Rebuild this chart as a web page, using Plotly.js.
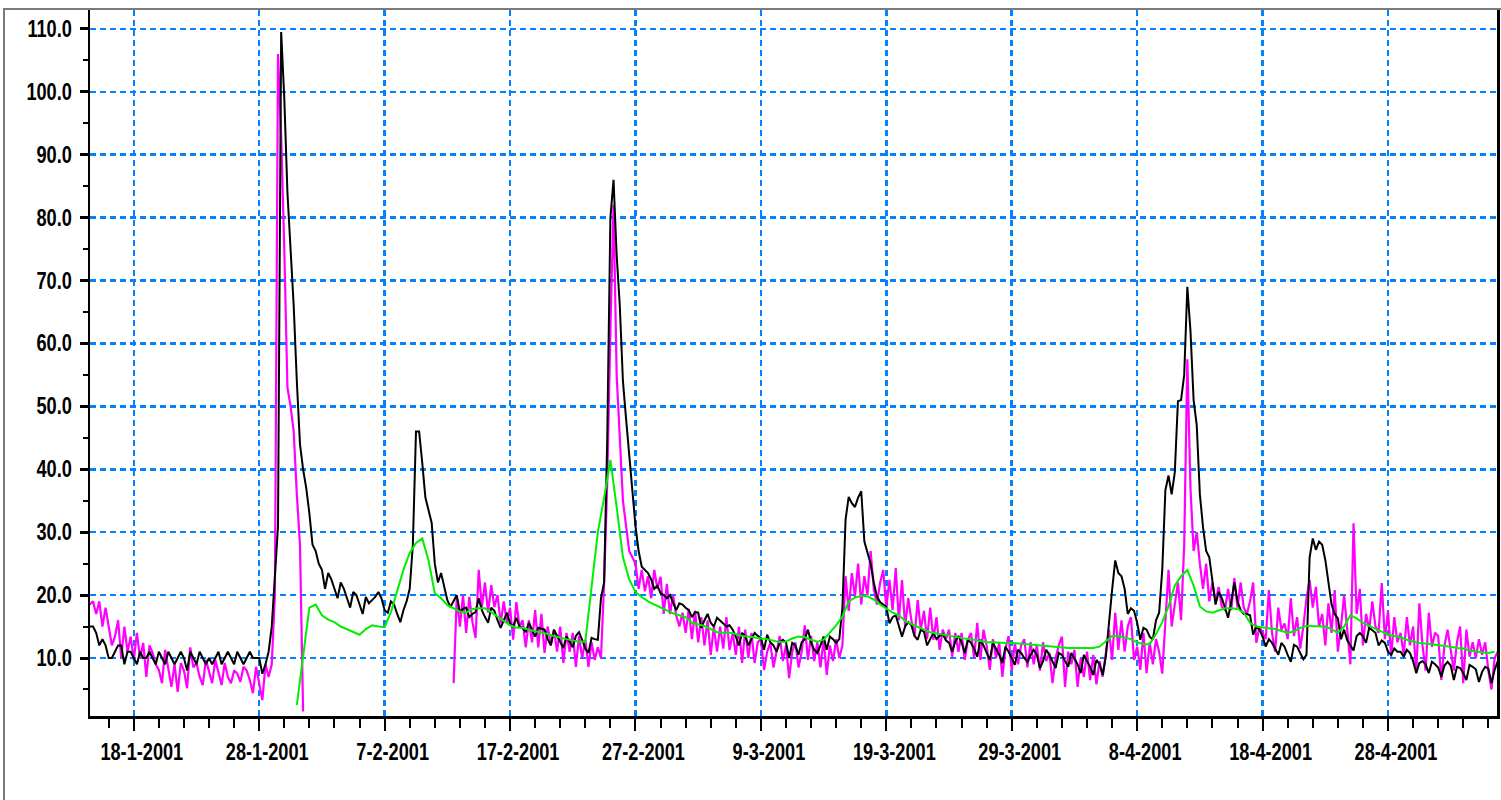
<!DOCTYPE html>
<html><head><meta charset="utf-8">
<script src="https://cdn.plot.ly/plotly-3.0.1.min.js"></script>
<style>
html,body{margin:0;padding:0;background:#fff;}
#wrap{position:relative;width:1501px;height:800px;overflow:hidden;}
#chart{position:absolute;left:0;top:0;width:1501px;height:800px;}
#frame{position:absolute;left:3px;top:8px;width:1600px;height:900px;border-left:2px solid #7a7a7a;border-top:2px solid #7a7a7a;pointer-events:none;}
</style></head><body>
<div id="wrap"><div id="chart"></div><div id="frame"></div></div>
<script>
// Series sampled every 6 hours, first sample 2001-01-14 12:00
const seriesStart = '2001-01-14T12:00:00Z';
const seriesStepHours = 6;
// Smoothed (green) series sampled every 12 hours, first sample 2001-01-31 00:00
const greenStart = '2001-01-31T00:00:00Z';
const greenStepHours = 12;

const blackValues = [
/*Jan14*/ 15, 15,
/*Jan15*/ 14, 12, 13, 12,
/*Jan16*/ 10, 10, 11, 12,
/*Jan17*/ 12, 9, 11, 11,
/*Jan18*/ 10, 9, 11, 10,
/*Jan19*/ 10, 11, 10, 9,
/*Jan20*/ 11, 10, 9, 11,
/*Jan21*/ 10, 9, 10, 11,
/*Jan22*/ 10, 8, 11, 10,
/*Jan23*/ 9, 11, 10, 9,
/*Jan24*/ 10, 9, 10, 11,
/*Jan25*/ 9, 10, 11, 10,
/*Jan26*/ 9, 11, 10, 9,
/*Jan27*/ 10, 11, 10, 10,
/*Jan28*/ 10, 7.5, 9, 11,
/*Jan29*/ 15, 23, 31, 109.5,
/*Jan30*/ 99, 84, 75, 66,
/*Jan31*/ 54, 44, 40, 37,
/*Feb01*/ 33, 28, 27, 25,
/*Feb02*/ 24, 21, 23.5, 22.5,
/*Feb03*/ 21, 19.5, 22, 21,
/*Feb04*/ 19.5, 18, 20.5, 20,
/*Feb05*/ 18.5, 17, 19.7, 18.7,
/*Feb06*/ 19.2, 19.7, 20.5, 19.5,
/*Feb07*/ 17.6, 17.2, 19, 18.5,
/*Feb08*/ 17, 15.7, 17.6, 19,
/*Feb09*/ 21, 28, 46, 46,
/*Feb10*/ 41, 35.5, 33.5, 31.5,
/*Feb11*/ 25, 22, 23.5, 21.5,
/*Feb12*/ 19.2, 18.1, 19, 20,
/*Feb13*/ 17.3, 17.8, 18, 16.5,
/*Feb14*/ 17, 17.3, 19.5, 17.6,
/*Feb15*/ 16.5, 15.6, 18, 17.5,
/*Feb16*/ 16, 14.8, 16, 17.2,
/*Feb17*/ 15.5, 15, 16.4, 15,
/*Feb18*/ 14.8, 14.1, 15.6, 14.5,
/*Feb19*/ 13.4, 14.8, 14.6, 14.5,
/*Feb20*/ 13, 12, 14.5, 13.5,
/*Feb21*/ 12.5, 11.6, 13.4, 12.5,
/*Feb22*/ 11.7, 13.5, 14.1, 12.9,
/*Feb23*/ 11.5, 10.8, 13.2, 13,
/*Feb24*/ 12.9, 19.5, 22, 45,
/*Feb25*/ 80, 86, 74, 66,
/*Feb26*/ 54, 48, 42, 36,
/*Feb27*/ 31, 27, 24.5, 24,
/*Feb28*/ 23.5, 22.5, 21, 21.5,
/*Mar01*/ 20.3, 20, 19.5, 20,
/*Mar02*/ 18.9, 17.6, 18.7, 18.5,
/*Mar03*/ 18, 17.6, 16.5, 17.3,
/*Mar04*/ 17.2, 14.8, 16, 17,
/*Mar05*/ 15.6, 15, 16.4, 16,
/*Mar06*/ 15.5, 15, 15.2, 14.5,
/*Mar07*/ 13.4, 12, 14, 13.5,
/*Mar08*/ 12, 13, 14, 13.5,
/*Mar09*/ 13.2, 11.3, 13.7, 12.5,
/*Mar10*/ 12, 11, 12.4, 12.9,
/*Mar11*/ 12.5, 10, 12.4, 12,
/*Mar12*/ 10.5, 12.5, 13, 14.5,
/*Mar13*/ 12.5, 11.3, 10.8, 12,
/*Mar14*/ 13.4, 11.3, 13.4, 13,
/*Mar15*/ 12.4, 13, 18, 32,
/*Mar16*/ 35.6, 34.6, 34, 35.5,
/*Mar17*/ 36.5, 28.5, 26.9, 25,
/*Mar18*/ 22, 19.8, 18.9, 18.5,
/*Mar19*/ 18.1, 15.5, 16.5, 16.8,
/*Mar20*/ 15, 13.4, 15, 15.7,
/*Mar21*/ 15.2, 13.5, 12.9, 14.5,
/*Mar22*/ 14.2, 12, 13, 14,
/*Mar23*/ 13, 13.5, 13.8, 12.8,
/*Mar24*/ 12.4, 11, 12.6, 13.5,
/*Mar25*/ 12.5, 10.8, 12.9, 12.4,
/*Mar26*/ 11.5, 10.2, 12.9, 12,
/*Mar27*/ 10.8, 9.7, 12.4, 11.5,
/*Mar28*/ 10.5, 9.2, 11.8, 11,
/*Mar29*/ 10, 8.9, 11.3, 10.8,
/*Mar30*/ 10, 9.4, 10.5, 11.3,
/*Mar31*/ 10.5, 8.4, 9.5, 11.3,
/*Apr01*/ 10.5, 9.5, 8.4, 10.8,
/*Apr02*/ 10.5, 9.5, 8.6, 10.8,
/*Apr03*/ 10, 9, 7.6, 10.5,
/*Apr04*/ 9.5, 8.6, 7.3, 9.7,
/*Apr05*/ 9, 7.3, 10.2, 16,
/*Apr06*/ 20.8, 25.5, 23.5, 23,
/*Apr07*/ 21, 17, 17.9, 17.5,
/*Apr08*/ 15.6, 12.9, 14.8, 14.5,
/*Apr09*/ 13.4, 12.9, 16, 17.2,
/*Apr10*/ 24, 36.7, 39, 36,
/*Apr11*/ 39.5, 50.8, 51, 55,
/*Apr12*/ 69, 62, 51, 47,
/*Apr13*/ 36, 30.8, 27, 26,
/*Apr14*/ 22.5, 18.5, 20.5, 19.5,
/*Apr15*/ 18, 16.4, 18.9, 22,
/*Apr16*/ 19, 17.6, 17, 17,
/*Apr17*/ 16.8, 13.7, 15, 14.5,
/*Apr18*/ 13.4, 11.8, 13, 12.4,
/*Apr19*/ 11.5, 10.5, 12.4, 11.8,
/*Apr20*/ 10.5, 9.4, 12.1, 11.8,
/*Apr21*/ 10.8, 9.8, 10.5, 26,
/*Apr22*/ 29, 27.2, 28.5, 28,
/*Apr23*/ 25.6, 22, 18.5, 17,
/*Apr24*/ 16.3, 13, 14.5, 12.8,
/*Apr25*/ 12, 11.2, 13.5, 14,
/*Apr26*/ 13.5, 12.4, 14.8, 14.4,
/*Apr27*/ 14, 12, 12.8, 12.4,
/*Apr28*/ 11, 10.5, 11.5, 11,
/*Apr29*/ 11, 10.2, 11.3, 10.8,
/*Apr30*/ 9.5, 7.6, 9.2, 9.5,
/*May01*/ 9, 7.6, 9.4, 9,
/*May02*/ 8.5, 7, 8.8, 9.4,
/*May03*/ 8.8, 6.5, 8.6, 8.4,
/*May04*/ 7.6, 6.5, 8.9, 8.6,
/*May05*/ 8.2, 6.2, 7.8, 8.6,
/*May06*/ 8.3, 6, 8.1, 9.5
];

const magentaValues = [
/*Jan14*/ 18.5, 19,
/*Jan15*/ 17, 19, 15, 18,
/*Jan16*/ 15, 12, 13.4, 16,
/*Jan17*/ 10, 15, 11, 13.4,
/*Jan18*/ 9.7, 14, 10, 12.4,
/*Jan19*/ 7, 12, 10.8, 9,
/*Jan20*/ 8.1, 6, 11.3, 8,
/*Jan21*/ 5.4, 9, 4.6, 9.2,
/*Jan22*/ 8, 5.2, 11.7, 8.5,
/*Jan23*/ 9.2, 7, 5.7, 9.7,
/*Jan24*/ 8, 6, 9.7, 7.5,
/*Jan25*/ 5.7, 9.2, 7, 6,
/*Jan26*/ 8, 7.5, 6.2, 8.6,
/*Jan27*/ 8, 6.5, 4.4, 8.6,
/*Jan28*/ 6, 3.3, 9, 7,
/*Jan29*/ 9, 20, 106, 93,
/*Jan30*/ 75, 53, 50, 46,
/*Jan31*/ 36, 28, 1.5, null,
/*Feb01*/ null, null, null, null,
/*Feb02*/ null, null, null, null,
/*Feb03*/ null, null, null, null,
/*Feb04*/ null, null, null, null,
/*Feb05*/ null, null, null, null,
/*Feb06*/ null, null, null, null,
/*Feb07*/ null, null, null, null,
/*Feb08*/ null, null, null, null,
/*Feb09*/ null, null, null, null,
/*Feb10*/ null, null, null, null,
/*Feb11*/ null, null, null, null,
/*Feb12*/ null, null, 6, 19.7,
/*Feb13*/ 15, 20, 14, 19.7,
/*Feb14*/ 15.7, 13.2, 24, 18.1,
/*Feb15*/ 22, 17.2, 21.6, 18.1,
/*Feb16*/ 20, 15.5, 19, 15.6,
/*Feb17*/ 18, 12.9, 18.9, 15,
/*Feb18*/ 16, 11.7, 16, 12.5,
/*Feb19*/ 17.6, 11.7, 17, 10.8,
/*Feb20*/ 15, 12, 14.5, 11,
/*Feb21*/ 15, 9.2, 14, 11,
/*Feb22*/ 14, 8.6, 13.5, 10,
/*Feb23*/ 12.9, 8.6, 12.5, 9.7,
/*Feb24*/ 11.7, 10, 22, 38,
/*Feb25*/ 62, 82, 55, 44,
/*Feb26*/ 35, 31, 27, 26,
/*Feb27*/ 25, 21, 24, 20.6,
/*Feb28*/ 23, 19.5, 24, 21,
/*Mar01*/ 22.9, 17, 21.8, 17,
/*Mar02*/ 20, 16.7, 15, 17.2,
/*Mar03*/ 14, 17.8, 13, 17.5,
/*Mar04*/ 12.5, 16.5, 12, 16,
/*Mar05*/ 10.5, 15, 11, 15,
/*Mar06*/ 11.5, 16.5, 11.3, 14,
/*Mar07*/ 10.5, 15, 9.2, 14.5,
/*Mar08*/ 10, 14, 9.2, 12.5,
/*Mar09*/ 13, 8.1, 11, 12.4,
/*Mar10*/ 8.5, 11, 13.5, 9.5,
/*Mar11*/ 12, 6.8, 11, 12.5,
/*Mar12*/ 8.5, 11, 15.2, 9.7,
/*Mar13*/ 13.5, 9.5, 12.5, 8.5,
/*Mar14*/ 13, 7.3, 12, 9.5,
/*Mar15*/ 13, 10, 12, 23,
/*Mar16*/ 17.5, 23.5, 19.7, 25,
/*Mar17*/ 18.5, 23, 20, 27,
/*Mar18*/ 21, 18.5, 21.9, 24,
/*Mar19*/ 18, 22.4, 17.6, 24.3,
/*Mar20*/ 16, 22.4, 15, 19.5,
/*Mar21*/ 16, 13.5, 19.2, 14.5,
/*Mar22*/ 17.5, 13, 18, 12.9,
/*Mar23*/ 16.5, 11.3, 14.5, 13,
/*Mar24*/ 14.5, 10.2, 14, 11,
/*Mar25*/ 14, 9.7, 12.9, 14,
/*Mar26*/ 10, 15.6, 9.7, 14.5,
/*Mar27*/ 12, 8.1, 13, 10,
/*Mar28*/ 12.4, 7, 11.5, 13.5,
/*Mar29*/ 8, 12.4, 9, 12,
/*Mar30*/ 13, 8.5, 12.5, 9,
/*Mar31*/ 12, 8, 12.5, 9.5,
/*Apr01*/ 10.8, 6, 10, 12,
/*Apr02*/ 13.4, 5.4, 11, 9,
/*Apr03*/ 11.3, 5.4, 10, 7,
/*Apr04*/ 11, 6.5, 10.5, 5.8,
/*Apr05*/ 9.5, 7, 11, 14.5,
/*Apr06*/ 9.7, 17.2, 11.3, 16,
/*Apr07*/ 11, 15, 16.5, 9.7,
/*Apr08*/ 11.8, 8.1, 14, 7.6,
/*Apr09*/ 12.5, 9, 13, 11,
/*Apr10*/ 7.5, 16.5, 24, 15,
/*Apr11*/ 18.7, 22, 16, 28,
/*Apr12*/ 57.5, 37, 27, 30,
/*Apr13*/ 25, 21, 25, 19,
/*Apr14*/ 22, 19, 21.3, 18.1,
/*Apr15*/ 17.6, 21, 17.6, 22.7,
/*Apr16*/ 18, 22, 18, 17,
/*Apr17*/ 19, 22, 12.4, 15,
/*Apr18*/ 14, 13, 20.8, 14,
/*Apr19*/ 11, 18, 14.5, 15.5,
/*Apr20*/ 13, 19.5, 13.5, 16.5,
/*Apr21*/ 11.5, 15, 19.5, 22.4,
/*Apr22*/ 18, 21.3, 15, 17,
/*Apr23*/ 12, 18.7, 14, 20.8,
/*Apr24*/ 11, 15, 20, 14,
/*Apr25*/ 9, 31.4, 17, 21,
/*Apr26*/ 12, 17, 14.5, 19,
/*Apr27*/ 15, 14, 21.9, 13,
/*Apr28*/ 17.5, 10.2, 16.5, 12.5,
/*Apr29*/ 14, 10.5, 16.5, 12,
/*Apr30*/ 15, 7.6, 18.7, 12,
/*May01*/ 8, 17.2, 11.8, 14,
/*May02*/ 13.5, 6.5, 12, 14.5,
/*May03*/ 11, 8, 12.5, 15,
/*May04*/ 6, 14.5, 10.2, 12.5,
/*May05*/ 10, 13, 10.5, 12.5,
/*May06*/ 8, 5, 10, 11
];

const greenValues = [
/*Jan31*/ 2.5, 10,
/*Feb01*/ 18, 18.5,
/*Feb02*/ 16.8, 16.1,
/*Feb03*/ 15.7, 15,
/*Feb04*/ 14.6, 14.2,
/*Feb05*/ 13.7, 14.6,
/*Feb06*/ 15.2, 15,
/*Feb07*/ 14.9, 17.3,
/*Feb08*/ 20.5, 24,
/*Feb09*/ 26.7, 28.3,
/*Feb10*/ 29, 25.5,
/*Feb11*/ 20.3, 19.5,
/*Feb12*/ 18.4, 17.9,
/*Feb13*/ 17.4, 17.2,
/*Feb14*/ 17.8, 17.9,
/*Feb15*/ 17.9, 17.3,
/*Feb16*/ 16.6, 16,
/*Feb17*/ 15.2, 14.8,
/*Feb18*/ 14.8, 14.5,
/*Feb19*/ 14.3, 14.1,
/*Feb20*/ 13.8, 13.5,
/*Feb21*/ 13.2, 13,
/*Feb22*/ 12.8, 12.6,
/*Feb23*/ 12.6, 21,
/*Feb24*/ 30, 35.5,
/*Feb25*/ 41.5, 34,
/*Feb26*/ 26, 22.5,
/*Feb27*/ 20.5, 19.7,
/*Feb28*/ 19, 18.5,
/*Mar01*/ 18, 17.6,
/*Mar02*/ 17.1, 16.8,
/*Mar03*/ 16.5, 15.6,
/*Mar04*/ 15.4, 15.1,
/*Mar05*/ 14.6, 14.1,
/*Mar06*/ 14, 14,
/*Mar07*/ 13.8, 13.5,
/*Mar08*/ 13.4, 13.2,
/*Mar09*/ 13.1, 13,
/*Mar10*/ 12.8, 12.5,
/*Mar11*/ 12.6, 13.1,
/*Mar12*/ 13.4, 13.3,
/*Mar13*/ 12.9, 12.6,
/*Mar14*/ 12.9, 14,
/*Mar15*/ 15.2, 16.6,
/*Mar16*/ 19, 19.6,
/*Mar17*/ 19.9, 19.8,
/*Mar18*/ 19.3, 18.5,
/*Mar19*/ 17.9, 17.2,
/*Mar20*/ 16.8, 15.9,
/*Mar21*/ 15.4, 14.9,
/*Mar22*/ 14.5, 14.1,
/*Mar23*/ 13.9, 13.7,
/*Mar24*/ 13.5, 13.3,
/*Mar25*/ 13.2, 13,
/*Mar26*/ 12.9, 12.7,
/*Mar27*/ 12.5, 12.5,
/*Mar28*/ 12.4, 12.4,
/*Mar29*/ 12.4, 12.3,
/*Mar30*/ 12.2, 12.1,
/*Mar31*/ 12.1, 12,
/*Apr01*/ 11.8, 11.7,
/*Apr02*/ 11.7, 11.6,
/*Apr03*/ 11.6, 11.6,
/*Apr04*/ 11.6, 11.6,
/*Apr05*/ 11.8, 12.7,
/*Apr06*/ 13.5, 13.5,
/*Apr07*/ 13.3, 13,
/*Apr08*/ 12.5, 12.2,
/*Apr09*/ 12.2, 13.8,
/*Apr10*/ 15.7, 18.2,
/*Apr11*/ 21.5, 23,
/*Apr12*/ 24, 21.5,
/*Apr13*/ 18.2, 17.4,
/*Apr14*/ 17.2, 17.6,
/*Apr15*/ 17.9, 17.9,
/*Apr16*/ 17.8, 17.2,
/*Apr17*/ 15.6, 15,
/*Apr18*/ 14.9, 14.8,
/*Apr19*/ 14.6, 14.3,
/*Apr20*/ 14, 14.2,
/*Apr21*/ 14.8, 15.1,
/*Apr22*/ 15.1, 15.1,
/*Apr23*/ 15, 14.6,
/*Apr24*/ 14, 15,
/*Apr25*/ 16.8, 16.3,
/*Apr26*/ 15.6, 15.1,
/*Apr27*/ 14.7, 14.2,
/*Apr28*/ 13.7, 13.5,
/*Apr29*/ 13.3, 12.9,
/*Apr30*/ 12.6, 12.4,
/*May01*/ 12.3, 12.2,
/*May02*/ 12.1, 11.9,
/*May03*/ 11.8, 11.6,
/*May04*/ 11.5, 11.2,
/*May05*/ 11, 10.9,
/*May06*/ 10.8, 11
];

const yTickValues = [10, 20, 30, 40, 50, 60, 70, 80, 90, 100, 110];
const yTickLabels = ['10.0', '20.0', '30.0', '40.0', '50.0', '60.0', '70.0', '80.0', '90.0', '100.0', '110.0'];

function pad(n){ return (n < 10 ? '0' : '') + n; }
function timeAxis(startIso, stepHours, count){
  const t0 = Date.parse(startIso);
  const out = [];
  for (let i = 0; i < count; i++){
    const d = new Date(t0 + i * stepHours * 3600000);
    out.push(d.getUTCFullYear() + '-' + pad(d.getUTCMonth() + 1) + '-' + pad(d.getUTCDate()) + ' ' + pad(d.getUTCHours()) + ':00');
  }
  return out;
}

const tSeries = timeAxis(seriesStart, seriesStepHours, blackValues.length);
const tMagenta = timeAxis(seriesStart, seriesStepHours, magentaValues.length);
const tGreen = timeAxis(greenStart, greenStepHours, greenValues.length);

const FONT = '"Liberation Sans", Arial, sans-serif';

const traces = [
  {x: tMagenta, y: magentaValues, type: 'scatter', mode: 'lines', line: {color: '#ff00ff', width: 2.2}, connectgaps: false, hoverinfo: 'skip'},
  {x: tSeries, y: blackValues, type: 'scatter', mode: 'lines', line: {color: '#000000', width: 2}, connectgaps: false, hoverinfo: 'skip'},
  {x: tGreen, y: greenValues, type: 'scatter', mode: 'lines', line: {color: '#00ee00', width: 2}, connectgaps: false, hoverinfo: 'skip'}
];

const gridBlue = '#0580ff';
const tickFont = {family: FONT, size: 23, color: '#000000', weight: 'bold'};
const layout = {
  width: 1501, height: 800,
  margin: {l: 90, r: 4, t: 10, b: 84, pad: 0},
  paper_bgcolor: '#ffffff', plot_bgcolor: '#ffffff',
  showlegend: false,
  font: tickFont,
  xaxis: {
    type: 'date',
    range: ['2001-01-14 12:13', '2001-05-06 16:33'],
    tick0: '2001-01-18', dtick: 864000000,
    tickformat: '%-d-%-m-%Y',
    ticks: 'outside', ticklen: 12, tickwidth: 2, tickcolor: '#000000',
    ticklabelstandoff: 1, ticklabelshift: 8,
    tickfont: tickFont,
    showline: true, linewidth: 3, linecolor: '#000000', mirror: false,
    showgrid: true, gridcolor: gridBlue, gridwidth: 2.5, griddash: '6px,4px',
    zeroline: false,
    minor: {dtick: 172800000, tick0: '2001-01-18', ticks: 'outside', ticklen: 9, tickwidth: 2, tickcolor: '#000000', showgrid: false}
  },
  yaxis: {
    range: [0.78, 113],
    tickmode: 'array', tickvals: yTickValues, ticktext: yTickLabels,
    ticks: 'outside', ticklen: 8, tickwidth: 3, tickcolor: '#000000',
    ticklabelstandoff: 3,
    tickfont: tickFont,
    showline: true, linewidth: 2.5, linecolor: '#000000', mirror: true,
    showgrid: true, gridcolor: gridBlue, gridwidth: 2.5, griddash: '6px,4px',
    zeroline: false,
    minor: {dtick: 5, tick0: 0, ticks: 'outside', ticklen: 5, tickwidth: 2, tickcolor: '#000000', showgrid: false}
  }
};

Plotly.newPlot('chart', traces, layout, {staticPlot: true, displayModeBar: false}).then(function(gd){
  // narrow the bold tick glyphs horizontally, as in the original condensed labels
  gd.querySelectorAll('.xtick text, .ytick text').forEach(function(t){
    const w = t.getComputedTextLength();
    if (w > 0){
      t.setAttribute('textLength', (w * 0.79).toFixed(1));
      t.setAttribute('lengthAdjust', 'spacingAndGlyphs');
    }
  });
});
</script>
</body></html>
